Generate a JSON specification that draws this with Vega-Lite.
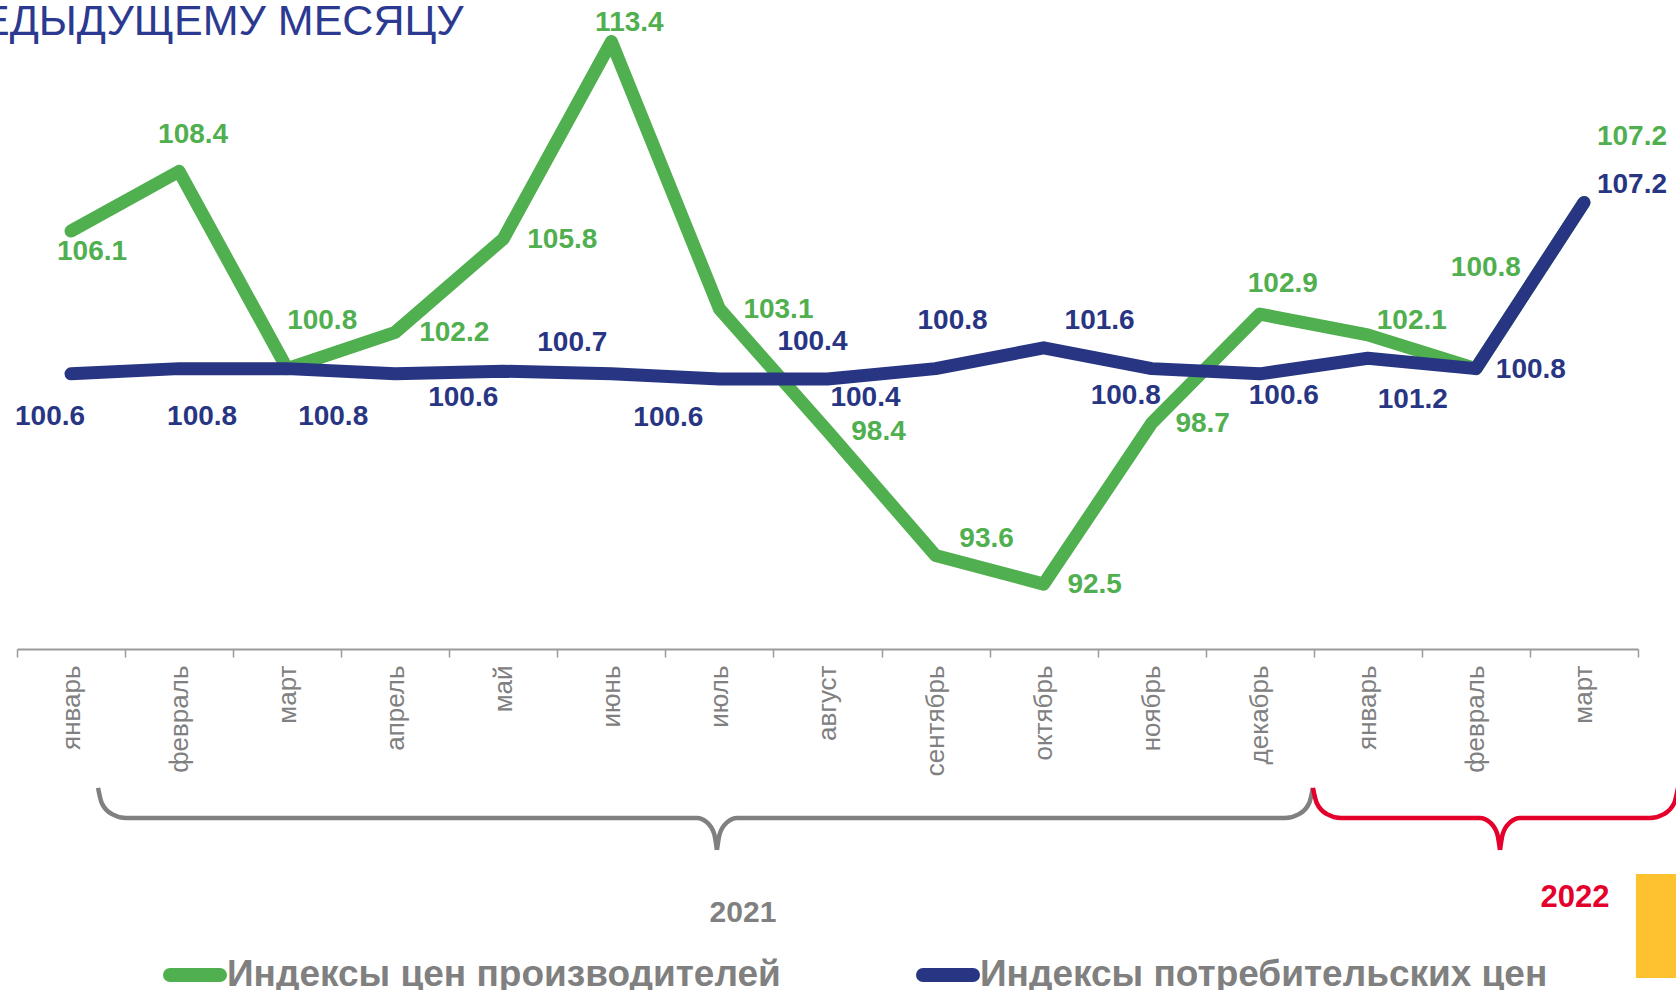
{
  "$schema": "https://vega.github.io/schema/vega-lite/v6.json",
  "width": 1621,
  "height": 649,
  "autosize": {"type": "none"},
  "padding": {"left": 17, "top": 0, "right": 38, "bottom": 341},
  "background": "white",
  "title": {"text": "ЕДЫДУЩЕМУ МЕСЯЦУ", "anchor": "start", "frame": "group", "orient": "top", "font": "Liberation Sans", "fontSize": 43, "fontWeight": "normal", "color": "#2B3990", "offset": -78, "dx": -36, "baseline": "alphabetic"},
  "config": {
    "view": {"stroke": null},
    "font": "Liberation Sans",
    "text": {"font": "Liberation Sans", "fontSize": 28, "fontWeight": "bold", "align": "center", "baseline": "middle"}
  },
  "datasets": {
    "series": [
      {"period": "январь 2021", "series": "Индексы цен производителей", "value": 106.1},
      {"period": "февраль 2021", "series": "Индексы цен производителей", "value": 108.4},
      {"period": "март 2021", "series": "Индексы цен производителей", "value": 100.8},
      {"period": "апрель 2021", "series": "Индексы цен производителей", "value": 102.2},
      {"period": "май 2021", "series": "Индексы цен производителей", "value": 105.8},
      {"period": "июнь 2021", "series": "Индексы цен производителей", "value": 113.4},
      {"period": "июль 2021", "series": "Индексы цен производителей", "value": 103.1},
      {"period": "август 2021", "series": "Индексы цен производителей", "value": 98.4},
      {"period": "сентябрь 2021", "series": "Индексы цен производителей", "value": 93.6},
      {"period": "октябрь 2021", "series": "Индексы цен производителей", "value": 92.5},
      {"period": "ноябрь 2021", "series": "Индексы цен производителей", "value": 98.7},
      {"period": "декабрь 2021", "series": "Индексы цен производителей", "value": 102.9},
      {"period": "январь 2022", "series": "Индексы цен производителей", "value": 102.1},
      {"period": "февраль 2022", "series": "Индексы цен производителей", "value": 100.8},
      {"period": "март 2022", "series": "Индексы цен производителей", "value": 107.2},
      {"period": "январь 2021", "series": "Индексы потребительских цен", "value": 100.6},
      {"period": "февраль 2021", "series": "Индексы потребительских цен", "value": 100.8},
      {"period": "март 2021", "series": "Индексы потребительских цен", "value": 100.8},
      {"period": "апрель 2021", "series": "Индексы потребительских цен", "value": 100.6},
      {"period": "май 2021", "series": "Индексы потребительских цен", "value": 100.7},
      {"period": "июнь 2021", "series": "Индексы потребительских цен", "value": 100.6},
      {"period": "июль 2021", "series": "Индексы потребительских цен", "value": 100.4},
      {"period": "август 2021", "series": "Индексы потребительских цен", "value": 100.4},
      {"period": "сентябрь 2021", "series": "Индексы потребительских цен", "value": 100.8},
      {"period": "октябрь 2021", "series": "Индексы потребительских цен", "value": 101.6},
      {"period": "ноябрь 2021", "series": "Индексы потребительских цен", "value": 100.8},
      {"period": "декабрь 2021", "series": "Индексы потребительских цен", "value": 100.6},
      {"period": "январь 2022", "series": "Индексы потребительских цен", "value": 101.2},
      {"period": "февраль 2022", "series": "Индексы потребительских цен", "value": 100.8},
      {"period": "март 2022", "series": "Индексы потребительских цен", "value": 107.2}
    ],
    "braces": [
      {"brace": "2021", "part": "2021L", "u": 0.25, "v": 84.65},
      {"brace": "2021", "part": "2021L", "u": 0.284, "v": 84.07},
      {"brace": "2021", "part": "2021L", "u": 0.379, "v": 83.64},
      {"brace": "2021", "part": "2021L", "u": 0.509, "v": 83.49},
      {"brace": "2021", "part": "2021L", "u": 5.792, "v": 83.49},
      {"brace": "2021", "part": "2021L", "u": 5.885, "v": 83.32},
      {"brace": "2021", "part": "2021L", "u": 5.952, "v": 82.87},
      {"brace": "2021", "part": "2021L", "u": 5.977, "v": 82.26},
      {"brace": "2021", "part": "2021R", "u": 5.977, "v": 82.26},
      {"brace": "2021", "part": "2021R", "u": 6.002, "v": 82.87},
      {"brace": "2021", "part": "2021R", "u": 6.07, "v": 83.32},
      {"brace": "2021", "part": "2021R", "u": 6.162, "v": 83.49},
      {"brace": "2021", "part": "2021R", "u": 11.233, "v": 83.49},
      {"brace": "2021", "part": "2021R", "u": 11.363, "v": 83.64},
      {"brace": "2021", "part": "2021R", "u": 11.458, "v": 84.07},
      {"brace": "2021", "part": "2021R", "u": 11.492, "v": 84.65},
      {"brace": "2022", "part": "2022L", "u": 11.492, "v": 84.65},
      {"brace": "2022", "part": "2022L", "u": 11.527, "v": 84.07},
      {"brace": "2022", "part": "2022L", "u": 11.622, "v": 83.64},
      {"brace": "2022", "part": "2022L", "u": 11.751, "v": 83.49},
      {"brace": "2022", "part": "2022L", "u": 13.037, "v": 83.49},
      {"brace": "2022", "part": "2022L", "u": 13.13, "v": 83.32},
      {"brace": "2022", "part": "2022L", "u": 13.198, "v": 82.87},
      {"brace": "2022", "part": "2022L", "u": 13.223, "v": 82.26},
      {"brace": "2022", "part": "2022R", "u": 13.223, "v": 82.26},
      {"brace": "2022", "part": "2022R", "u": 13.248, "v": 82.87},
      {"brace": "2022", "part": "2022R", "u": 13.316, "v": 83.32},
      {"brace": "2022", "part": "2022R", "u": 13.408, "v": 83.49},
      {"brace": "2022", "part": "2022R", "u": 14.611, "v": 83.49},
      {"brace": "2022", "part": "2022R", "u": 14.74, "v": 83.64},
      {"brace": "2022", "part": "2022R", "u": 14.836, "v": 84.07},
      {"brace": "2022", "part": "2022R", "u": 14.87, "v": 84.65}
    ],
    "years": [
      {"label": "2021", "u": 6.218, "v": 79.48},
      {"label": "2022", "u": 13.916, "v": 80.06}
    ],
    "panel": [
      {"u": 14.481, "u2": 15.4, "v": 81.33, "v2": 77.33}
    ]
  },
  "layer": [
    {
      "data": {"name": "series"},
      "encoding": {
        "x": {
          "field": "period", "type": "ordinal",
          "sort": ["январь 2021", "февраль 2021", "март 2021", "апрель 2021", "май 2021", "июнь 2021", "июль 2021", "август 2021", "сентябрь 2021", "октябрь 2021", "ноябрь 2021", "декабрь 2021", "январь 2022", "февраль 2022", "март 2022"],
          "scale": {"type": "band", "paddingInner": 0, "paddingOuter": 0},
          "axis": {"title": null, "labelAngle": -90, "labelFontSize": 26, "labelColor": "#808080", "labelFont": "Liberation Sans", "labelPadding": 8, "tickBand": "extent", "tickSize": 8, "tickColor": "#9A9A9A", "tickWidth": 1.5, "domainColor": "#9A9A9A", "domainWidth": 2, "grid": false, "labelExpr": "split(datum.label, ' ')[0]"}
        },
        "y": {"field": "value", "type": "quantitative", "scale": {"domain": [90, 115], "nice": false, "zero": false}, "axis": null}
      },
      "layer": [
        {
          "transform": [{"filter": {"field": "series", "equal": "Индексы цен производителей"}}],
          "mark": {"type": "line", "strokeWidth": 13, "strokeCap": "round", "strokeJoin": "round"},
          "encoding": {"color": {"field": "series", "type": "nominal",
            "scale": {"domain": ["Индексы цен производителей", "Индексы потребительских цен"], "range": ["#50AF4F", "#283583"]},
            "legend": {"orient": "none", "legendX": 146, "legendY": 943, "direction": "horizontal", "title": null, "padding": 0,
              "labelFont": "Liberation Sans", "labelFontSize": 37, "labelFontWeight": "bold", "labelColor": "#808080", "labelLimit": 1000,
              "symbolType": "stroke", "symbolStrokeWidth": 14, "symbolSize": 2500, "labelOffset": 0, "columnPadding": 114,
              "encode": {"symbols": {"update": {"strokeCap": {"value": "round"}}}}}}}
        },
        {
          "transform": [{"filter": {"field": "series", "equal": "Индексы потребительских цен"}}],
          "mark": {"type": "line", "strokeWidth": 13, "strokeCap": "round", "strokeJoin": "round"},
          "encoding": {"color": {"field": "series", "type": "nominal"}}
        },
        {"transform": [{"filter": {"and": [{"field": "series", "equal": "Индексы цен производителей"}, {"field": "period", "oneOf": ["апрель 2021", "май 2021", "июль 2021"]}]}}],
         "mark": {"type": "text", "color": "#50AF4F", "dx": 59, "dy": 1}, "encoding": {"text": {"field": "value", "type": "quantitative", "format": ".1f"}}},
        {"transform": [{"filter": {"and": [{"field": "series", "equal": "Индексы цен производителей"}, {"field": "period", "oneOf": ["август 2021", "октябрь 2021", "ноябрь 2021"]}]}}],
         "mark": {"type": "text", "color": "#50AF4F", "dx": 51, "dy": 1}, "encoding": {"text": {"field": "value", "type": "quantitative", "format": ".1f"}}},
        {"transform": [{"filter": {"and": [{"field": "series", "equal": "Индексы цен производителей"}, {"field": "period", "oneOf": ["февраль 2021"]}]}}],
         "mark": {"type": "text", "color": "#50AF4F", "dx": 14, "dy": -36}, "encoding": {"text": {"field": "value", "type": "quantitative", "format": ".1f"}}},
        {"transform": [{"filter": {"and": [{"field": "series", "equal": "Индексы цен производителей"}, {"field": "period", "oneOf": ["декабрь 2021"]}]}}],
         "mark": {"type": "text", "color": "#50AF4F", "dx": 23, "dy": -30}, "encoding": {"text": {"field": "value", "type": "quantitative", "format": ".1f"}}},
        {"transform": [{"filter": {"and": [{"field": "series", "equal": "Индексы цен производителей"}, {"field": "period", "oneOf": ["июнь 2021"]}]}}],
         "mark": {"type": "text", "color": "#50AF4F", "dx": 18, "dy": -19}, "encoding": {"text": {"field": "value", "type": "quantitative", "format": ".1f"}}},
        {"transform": [{"filter": {"and": [{"field": "series", "equal": "Индексы цен производителей"}, {"field": "period", "oneOf": ["сентябрь 2021"]}]}}],
         "mark": {"type": "text", "color": "#50AF4F", "dx": 51, "dy": -17}, "encoding": {"text": {"field": "value", "type": "quantitative", "format": ".1f"}}},
        {"transform": [{"filter": {"and": [{"field": "series", "equal": "Индексы цен производителей"}, {"field": "period", "oneOf": ["январь 2022"]}]}}],
         "mark": {"type": "text", "color": "#50AF4F", "dx": 44, "dy": -14}, "encoding": {"text": {"field": "value", "type": "quantitative", "format": ".1f"}}},
        {"transform": [{"filter": {"and": [{"field": "series", "equal": "Индексы цен производителей"}, {"field": "period", "oneOf": ["март 2021"]}]}}],
         "mark": {"type": "text", "color": "#50AF4F", "dx": 35, "dy": -48}, "encoding": {"text": {"field": "value", "type": "quantitative", "format": ".1f"}}},
        {"transform": [{"filter": {"and": [{"field": "series", "equal": "Индексы цен производителей"}, {"field": "period", "oneOf": ["март 2022"]}]}}],
         "mark": {"type": "text", "color": "#50AF4F", "dx": 48, "dy": -65}, "encoding": {"text": {"field": "value", "type": "quantitative", "format": ".1f"}}},
        {"transform": [{"filter": {"and": [{"field": "series", "equal": "Индексы цен производителей"}, {"field": "period", "oneOf": ["февраль 2022"]}]}}],
         "mark": {"type": "text", "color": "#50AF4F", "dx": 10, "dy": -101}, "encoding": {"text": {"field": "value", "type": "quantitative", "format": ".1f"}}},
        {"transform": [{"filter": {"and": [{"field": "series", "equal": "Индексы цен производителей"}, {"field": "period", "oneOf": ["январь 2021"]}]}}],
         "mark": {"type": "text", "color": "#50AF4F", "dx": 21, "dy": 21}, "encoding": {"text": {"field": "value", "type": "quantitative", "format": ".1f"}}},
        {"transform": [{"filter": {"and": [{"field": "series", "equal": "Индексы потребительских цен"}, {"field": "period", "oneOf": ["март 2021"]}]}}],
         "mark": {"type": "text", "color": "#283583", "dx": 46, "dy": 48}, "encoding": {"text": {"field": "value", "type": "quantitative", "format": ".1f"}}},
        {"transform": [{"filter": {"and": [{"field": "series", "equal": "Индексы потребительских цен"}, {"field": "period", "oneOf": ["июнь 2021"]}]}}],
         "mark": {"type": "text", "color": "#283583", "dx": 57, "dy": 44}, "encoding": {"text": {"field": "value", "type": "quantitative", "format": ".1f"}}},
        {"transform": [{"filter": {"and": [{"field": "series", "equal": "Индексы потребительских цен"}, {"field": "period", "oneOf": ["январь 2022"]}]}}],
         "mark": {"type": "text", "color": "#283583", "dx": 45, "dy": 42}, "encoding": {"text": {"field": "value", "type": "quantitative", "format": ".1f"}}},
        {"transform": [{"filter": {"and": [{"field": "series", "equal": "Индексы потребительских цен"}, {"field": "period", "oneOf": ["февраль 2021"]}]}}],
         "mark": {"type": "text", "color": "#283583", "dx": 23, "dy": 48}, "encoding": {"text": {"field": "value", "type": "quantitative", "format": ".1f"}}},
        {"transform": [{"filter": {"and": [{"field": "series", "equal": "Индексы потребительских цен"}, {"field": "period", "oneOf": ["январь 2021"]}]}}],
         "mark": {"type": "text", "color": "#283583", "dx": -21, "dy": 43}, "encoding": {"text": {"field": "value", "type": "quantitative", "format": ".1f"}}},
        {"transform": [{"filter": {"and": [{"field": "series", "equal": "Индексы потребительских цен"}, {"field": "period", "oneOf": ["август 2021"]}]}}],
         "mark": {"type": "text", "color": "#283583", "dx": 38, "dy": 19}, "encoding": {"text": {"field": "value", "type": "quantitative", "format": ".1f"}}},
        {"transform": [{"filter": {"and": [{"field": "series", "equal": "Индексы потребительских цен"}, {"field": "period", "oneOf": ["декабрь 2021"]}]}}],
         "mark": {"type": "text", "color": "#283583", "dx": 24, "dy": 22}, "encoding": {"text": {"field": "value", "type": "quantitative", "format": ".1f"}}},
        {"transform": [{"filter": {"and": [{"field": "series", "equal": "Индексы потребительских цен"}, {"field": "period", "oneOf": ["апрель 2021"]}]}}],
         "mark": {"type": "text", "color": "#283583", "dx": 68, "dy": 24}, "encoding": {"text": {"field": "value", "type": "quantitative", "format": ".1f"}}},
        {"transform": [{"filter": {"and": [{"field": "series", "equal": "Индексы потребительских цен"}, {"field": "period", "oneOf": ["ноябрь 2021"]}]}}],
         "mark": {"type": "text", "color": "#283583", "dx": -26, "dy": 27}, "encoding": {"text": {"field": "value", "type": "quantitative", "format": ".1f"}}},
        {"transform": [{"filter": {"and": [{"field": "series", "equal": "Индексы потребительских цен"}, {"field": "period", "oneOf": ["май 2021"]}]}}],
         "mark": {"type": "text", "color": "#283583", "dx": 69, "dy": -28}, "encoding": {"text": {"field": "value", "type": "quantitative", "format": ".1f"}}},
        {"transform": [{"filter": {"and": [{"field": "series", "equal": "Индексы потребительских цен"}, {"field": "period", "oneOf": ["октябрь 2021"]}]}}],
         "mark": {"type": "text", "color": "#283583", "dx": 56, "dy": -27}, "encoding": {"text": {"field": "value", "type": "quantitative", "format": ".1f"}}},
        {"transform": [{"filter": {"and": [{"field": "series", "equal": "Индексы потребительских цен"}, {"field": "period", "oneOf": ["июль 2021"]}]}}],
         "mark": {"type": "text", "color": "#283583", "dx": 93, "dy": -37}, "encoding": {"text": {"field": "value", "type": "quantitative", "format": ".1f"}}},
        {"transform": [{"filter": {"and": [{"field": "series", "equal": "Индексы потребительских цен"}, {"field": "period", "oneOf": ["сентябрь 2021"]}]}}],
         "mark": {"type": "text", "color": "#283583", "dx": 17, "dy": -48}, "encoding": {"text": {"field": "value", "type": "quantitative", "format": ".1f"}}},
        {"transform": [{"filter": {"and": [{"field": "series", "equal": "Индексы потребительских цен"}, {"field": "period", "oneOf": ["февраль 2022"]}]}}],
         "mark": {"type": "text", "color": "#283583", "dx": 55, "dy": 1}, "encoding": {"text": {"field": "value", "type": "quantitative", "format": ".1f"}}},
        {"transform": [{"filter": {"and": [{"field": "series", "equal": "Индексы потребительских цен"}, {"field": "period", "oneOf": ["март 2022"]}]}}],
         "mark": {"type": "text", "color": "#283583", "dx": 48, "dy": -17}, "encoding": {"text": {"field": "value", "type": "quantitative", "format": ".1f"}}}
      ]
    },
    {
      "layer": [
        {
          "data": {"name": "panel"},
          "mark": {"type": "rect", "color": "#FEC12F"},
          "encoding": {
            "x": {"field": "u", "type": "quantitative", "scale": {"domain": [-0.5, 14.5], "nice": false, "zero": false}, "axis": null},
            "x2": {"field": "u2"},
            "y": {"field": "v", "type": "quantitative", "scale": {"domain": [90, 115], "nice": false, "zero": false}, "axis": null},
            "y2": {"field": "v2"}
          }
        },
        {
          "data": {"name": "braces"},
          "transform": [{"filter": {"field": "brace", "equal": "2021"}}],
          "mark": {"type": "line", "color": "#808080", "strokeWidth": 4.5, "interpolate": "monotone"},
          "encoding": {
            "x": {"field": "u", "type": "quantitative", "scale": {"domain": [-0.5, 14.5], "nice": false, "zero": false}, "axis": null},
            "y": {"field": "v", "type": "quantitative", "scale": {"domain": [90, 115], "nice": false, "zero": false}, "axis": null},
            "detail": {"field": "part", "type": "nominal"}
          }
        },
        {
          "data": {"name": "braces"},
          "transform": [{"filter": {"field": "brace", "equal": "2022"}}],
          "mark": {"type": "line", "color": "#E4002B", "strokeWidth": 4.5, "interpolate": "monotone"},
          "encoding": {
            "x": {"field": "u", "type": "quantitative", "scale": {"domain": [-0.5, 14.5], "nice": false, "zero": false}, "axis": null},
            "y": {"field": "v", "type": "quantitative", "scale": {"domain": [90, 115], "nice": false, "zero": false}, "axis": null},
            "detail": {"field": "part", "type": "nominal"}
          }
        },
        {
          "data": {"name": "years"},
          "transform": [{"filter": {"field": "label", "equal": "2021"}}],
          "mark": {"type": "text", "color": "#808080", "fontSize": 30, "baseline": "alphabetic"},
          "encoding": {
            "x": {"field": "u", "type": "quantitative", "scale": {"domain": [-0.5, 14.5], "nice": false, "zero": false}, "axis": null},
            "y": {"field": "v", "type": "quantitative", "scale": {"domain": [90, 115], "nice": false, "zero": false}, "axis": null},
            "text": {"field": "label"}
          }
        },
        {
          "data": {"name": "years"},
          "transform": [{"filter": {"field": "label", "equal": "2022"}}],
          "mark": {"type": "text", "color": "#E4002B", "fontSize": 31, "baseline": "alphabetic"},
          "encoding": {
            "x": {"field": "u", "type": "quantitative", "scale": {"domain": [-0.5, 14.5], "nice": false, "zero": false}, "axis": null},
            "y": {"field": "v", "type": "quantitative", "scale": {"domain": [90, 115], "nice": false, "zero": false}, "axis": null},
            "text": {"field": "label"}
          }
        }
      ]
    }
  ],
  "resolve": {"scale": {"x": "independent"}}
}
